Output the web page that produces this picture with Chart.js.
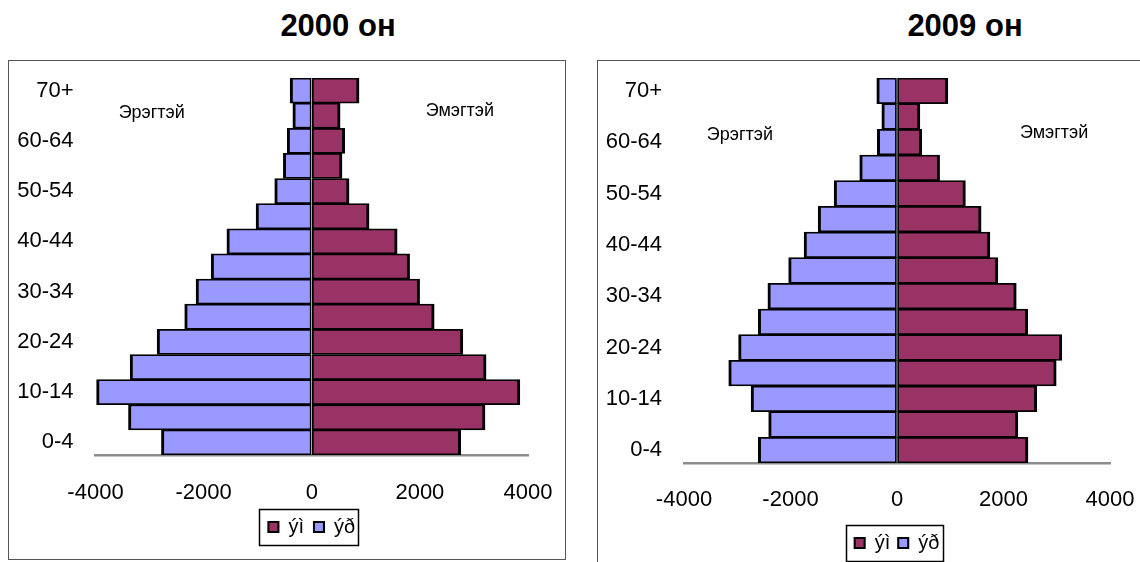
<!DOCTYPE html>
<html>
<head>
<meta charset="utf-8">
<script src="https://cdn.jsdelivr.net/npm/chart.js@4"></script>
<style>
  body { margin: 0; background: #fff; width: 1140px; height: 562px; overflow: hidden; position: relative;
         font-family: Arial, "Liberation Sans", sans-serif; }
  .title { position: absolute; top: 11px; width: 300px; text-align: center; font-weight: bold;
           font-size: 31px; line-height: 30px; color: #000; }
  .frame { position: absolute; border: 1px solid #555; box-sizing: border-box; }
  canvas { position: absolute; }
</style>
</head>
<body>
<div class="title" style="left:188px">2000 он</div>
<div class="title" style="left:815px">2009 он</div>
<div class="frame" style="left:8px; top:60px; width:558px; height:500px"></div>
<div class="frame" style="left:597px; top:60px; width:600px; height:530px"></div>
<canvas id="pyr2000" width="556" height="498" style="left:9px; top:61px"></canvas>
<canvas id="pyr2009" width="542" height="501" style="left:598px; top:61px"></canvas>
<script>
// age groups, bottom to top
const ageGroups = ['0-4', '5-9', '10-14', '15-19', '20-24', '25-29', '30-34', '35-39',
                   '40-44', '45-49', '50-54', '55-59', '60-64', '65-69', '70+'];
const shownAges = ['0-4', '10-14', '20-24', '30-34', '40-44', '50-54', '60-64', '70+'];
const xTicks = [-4000, -2000, 0, 2000, 4000];

// legend texts as they appear in the original (эм / эр)
const femaleLabel = 'ýì';
const maleLabel = 'ýð';

// 2000 он
const male2000 = [-2780, -3390, -3980, -3360, -2860, -2350, -2140, -1860, -1570, -1030, -685, -525, -455, -350, -400];
const female2000 = [2755, 3205, 3850, 3225, 2795, 2265, 1995, 1810, 1580, 1060, 690, 560, 610, 525, 875];

// 2009 он
const male2009 = [-2605, -2410, -2740, -3160, -2975, -2605, -2425, -2035, -1745, -1480, -1180, -700, -370, -285, -380];
const female2009 = [2460, 2270, 2625, 2990, 3095, 2455, 2240, 1895, 1745, 1580, 1285, 800, 465, 430, 955];

const FONT = 'Arial, "Liberation Sans", sans-serif';

// "Эрэгтэй" / "Эмэгтэй" texts inside the plot
const sexLabels = {
  id: 'sexLabels',
  afterDatasetsDraw(chart, args, opts) {
    const ctx = chart.ctx;
    ctx.save();
    ctx.font = '18px ' + FONT;
    ctx.fillStyle = '#000';
    ctx.textAlign = 'center';
    ctx.textBaseline = 'middle';
    opts.items.forEach(it => {
      ctx.fillText(it.text, chart.scales.x.getPixelForValue(it.x), chart.scales.y.getPixelForValue(it.y));
    });
    ctx.restore();
  }
};

// box round the legend, as in the Excel original
const legendFrame = {
  id: 'legendFrame',
  afterDraw(chart) {
    const boxes = chart.legend.legendHitBoxes;
    if (!boxes || !boxes.length) return;
    const l = Math.min(...boxes.map(b => b.left)) - 9;
    const r = Math.max(...boxes.map(b => b.left + b.width)) + 3;
    const t = Math.min(...boxes.map(b => b.top)) - 8;
    const btm = Math.max(...boxes.map(b => b.top + b.height)) + 8;
    const ctx = chart.ctx;
    ctx.save();
    ctx.strokeStyle = '#000';
    ctx.lineWidth = 1.5;
    ctx.strokeRect(Math.round(l) + 0.5, Math.round(t) + 0.5, Math.round(r - l), Math.round(btm - t));
    ctx.restore();
  }
};

// invisible tick marks keep the labels off the axes without widening the layout
const hiddenGrid = len => ({ display: true, color: 'rgba(0,0,0,0)', drawOnChartArea: false, drawTicks: true, tickLength: len });

function pyramid(id, male, female, cfg) {
  const chart = new Chart(document.getElementById(id), {
    type: 'bar',
    data: {
      labels: ageGroups,
      datasets: [
        {
          label: femaleLabel,
          data: female,
          backgroundColor: '#993366',
          borderColor: '#000',
          borderWidth: { left: 1.75, right: 3, top: 1.75, bottom: 1.75 },
          borderSkipped: false
        },
        {
          label: maleLabel,
          data: male,
          backgroundColor: '#9999FF',
          borderColor: '#000',
          borderWidth: { left: 3, right: 1.75, top: 1.75, bottom: 1.75 },
          borderSkipped: false
        }
      ]
    },
    options: {
      indexAxis: 'y',
      responsive: false,
      animation: false,
      layout: { padding: { top: 17, right: 37, bottom: 10, left: 0 } },
      datasets: { bar: { categoryPercentage: 1, barPercentage: 1 } },
      plugins: {
        tooltip: { enabled: false },
        legend: {
          position: 'bottom',
          fullSize: false,
          labels: {
            font: { size: 20, family: FONT },
            color: '#000',
            boxWidth: 10,
            boxHeight: 10,
            padding: cfg.legendPad
          }
        },
        sexLabels: { items: cfg.notes }
      },
      scales: {
        x: {
          stacked: true,
          min: -4000,
          max: 4000,
          z: 1,
          grid: hiddenGrid(cfg.xPad),
          border: { display: true, color: '#8c8c8c', width: 2.5 },
          afterBuildTicks: s => { s.ticks = xTicks.map(v => ({ value: v })); },
          afterFit: s => { s.height = cfg.xHeight; },
          ticks: {
            padding: 0,
            maxRotation: 0,
            color: '#000',
            font: { size: 22, family: FONT },
            callback: v => String(v)
          }
        },
        y: {
          stacked: true,
          reverse: true,
          grid: hiddenGrid(cfg.yPad),
          border: { display: false },
          afterFit: s => { s.width = cfg.yWidth; },
          ticks: {
            autoSkip: false,
            padding: 0,
            color: '#000',
            font: { size: 22, family: FONT },
            callback: (v, i) => shownAges.includes(ageGroups[i]) ? ageGroups[i] : ''
          }
        }
      }
    },
    plugins: [sexLabels, legendFrame]
  });

  // nudge the layout padding until the plot area sits where it does in the original
  const p = Object.assign({}, chart.options.layout.padding);
  for (let k = 0; k < 5; k++) {
    const a = chart.chartArea;
    p.top += cfg.area.top - a.top;
    p.left += cfg.area.left - a.left;
    p.right += a.right - cfg.area.right;
    p.bottom += a.bottom - cfg.area.bottom;
    chart.options.layout.padding = Object.assign({}, p);
    chart.update();
  }
  return chart;
}

pyramid('pyr2000', male2000, female2000, {
  area: { left: 86.5, right: 519, top: 17, bottom: 394 },
  yWidth: 86.5, yPad: 22,
  xHeight: 52, xPad: 25,
  legendPad: 10,
  notes: [
    { text: 'Эрэгтэй', x: -2960, y: 13.1 },
    { text: 'Эмэгтэй', x: 2740, y: 13.2 }
  ]
});

pyramid('pyr2009', male2009, female2009, {
  area: { left: 86, right: 512, top: 17, bottom: 402 },
  yWidth: 86, yPad: 22,
  xHeight: 62, xPad: 24,
  legendPad: 8,
  notes: [
    { text: 'Эрэгтэй', x: -2950, y: 12.28 },
    { text: 'Эмэгтэй', x: 2950, y: 12.36 }
  ]
});
</script>
</body>
</html>
